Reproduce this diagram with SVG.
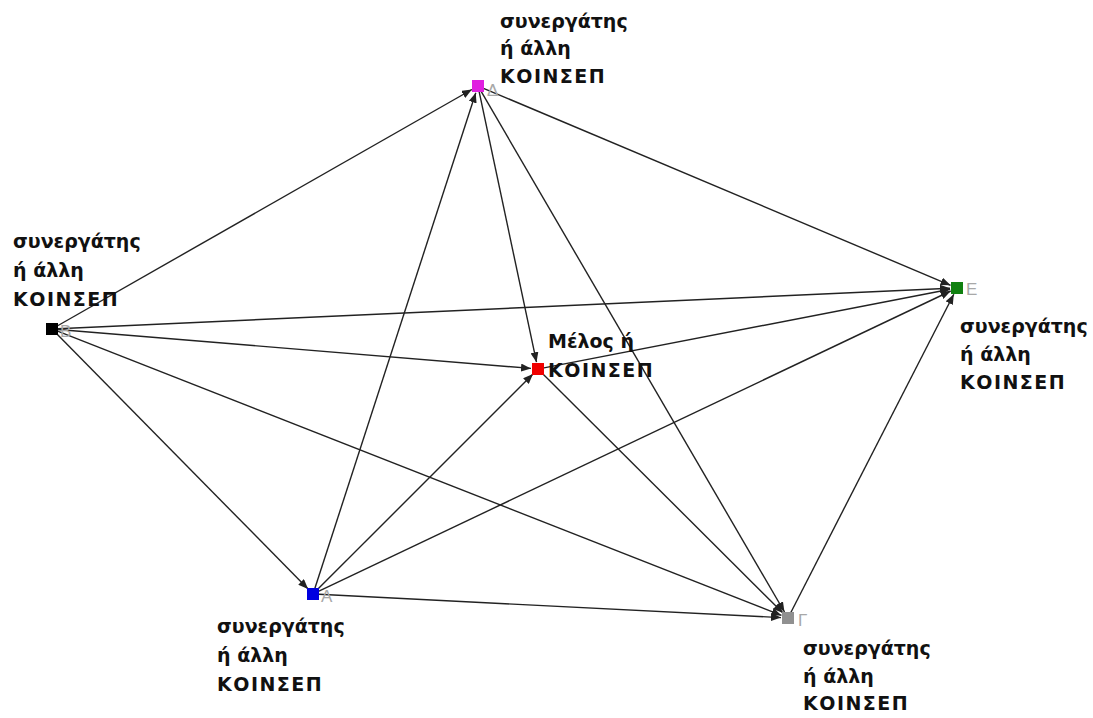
<svg xmlns="http://www.w3.org/2000/svg" width="1093" height="718" viewBox="0 0 1093 718">
<style>
.e{stroke:#222;stroke-width:1.4;fill:none;marker-end:url(#ah)}
.lbl{font-family:"DejaVu Sans","Noto Sans",sans-serif;font-weight:bold;font-size:19px;fill:#111}
.cap{letter-spacing:1.5px}
.ltr{font-family:"Liberation Sans",Arial,sans-serif;font-size:17px;fill:#a8a8a8}
</style>
<defs>
<marker id="ah" markerUnits="userSpaceOnUse" markerWidth="10" markerHeight="8" refX="10" refY="4" orient="auto">
<path d="M0,0 L10,4 L0,8 z" fill="#222"/>
</marker>
</defs>
<rect width="1093" height="718" fill="#fff"/>
<g id="connectors">
<line class="e" x1="57.2" y1="326" x2="471.9" y2="89.5"/>
<line class="e" x1="58" y1="328.7" x2="950" y2="288.3"/>
<line class="e" x1="58" y1="329.5" x2="531" y2="368.4"/>
<line class="e" x1="56.2" y1="333.3" x2="308.1" y2="589"/>
<line class="e" x1="57.6" y1="331.2" x2="781.5" y2="615.4"/>
<line class="e" x1="479.2" y1="91.9" x2="536.5" y2="362.2"/>
<line class="e" x1="483.5" y1="88.3" x2="950.6" y2="285.3"/>
<line class="e" x1="481" y1="91.2" x2="784.5" y2="612"/>
<line class="e" x1="314.9" y1="588.3" x2="475.8" y2="92.7"/>
<line class="e" x1="317.2" y1="589.8" x2="533" y2="374"/>
<line class="e" x1="318.4" y1="591.4" x2="950.7" y2="291"/>
<line class="e" x1="319" y1="594.3" x2="781" y2="617.6"/>
<line class="e" x1="543.9" y1="367.9" x2="950.1" y2="289.3"/>
<line class="e" x1="542.2" y1="373.2" x2="783" y2="613.1"/>
<line class="e" x1="790.7" y1="612.7" x2="953.8" y2="294.2"/>
</g>
<g id="node-delta">
<rect x="472" y="80" width="12" height="12" fill="#e020e0"/>
<text class="ltr" x="487" y="96">Δ</text>
<text class="lbl" x="500" y="28">συνεργάτης</text>
<text class="lbl" x="500" y="55">ή άλλη</text>
<text class="lbl cap" x="500" y="83">ΚΟΙΝΣΕΠ</text>
</g>
<g id="node-beta">
<rect x="46" y="323" width="12" height="12" fill="#000"/>
<text class="ltr" x="60" y="337">Β</text>
<text class="lbl" x="13" y="248">συνεργάτης</text>
<text class="lbl" x="13" y="277">ή άλλη</text>
<text class="lbl cap" x="13" y="306">ΚΟΙΝΣΕΠ</text>
</g>
<g id="node-member">
<rect x="532" y="363" width="12" height="12" fill="#f00000"/>
<text class="lbl" x="548" y="348">Μέλος ή</text>
<text class="lbl cap" x="548" y="377">ΚΟΙΝΣΕΠ</text>
</g>
<g id="node-epsilon">
<rect x="951" y="282" width="12" height="12" fill="#108010"/>
<text class="ltr" x="966" y="295">Ε</text>
<text class="lbl" x="960" y="333">συνεργάτης</text>
<text class="lbl" x="960" y="361">ή άλλη</text>
<text class="lbl cap" x="960" y="389">ΚΟΙΝΣΕΠ</text>
</g>
<g id="node-alpha">
<rect x="307" y="588" width="12" height="12" fill="#0000e0"/>
<text class="ltr" x="321" y="602">Α</text>
<text class="lbl" x="217" y="633">συνεργάτης</text>
<text class="lbl" x="217" y="662">ή άλλη</text>
<text class="lbl cap" x="217" y="691">ΚΟΙΝΣΕΠ</text>
</g>
<g id="node-gamma">
<rect x="782" y="612" width="12" height="12" fill="#909090"/>
<text class="ltr" x="798" y="626">Γ</text>
<text class="lbl" x="803" y="655">συνεργάτης</text>
<text class="lbl" x="803" y="683">ή άλλη</text>
<text class="lbl cap" x="803" y="710">ΚΟΙΝΣΕΠ</text>
</g>
</svg>
